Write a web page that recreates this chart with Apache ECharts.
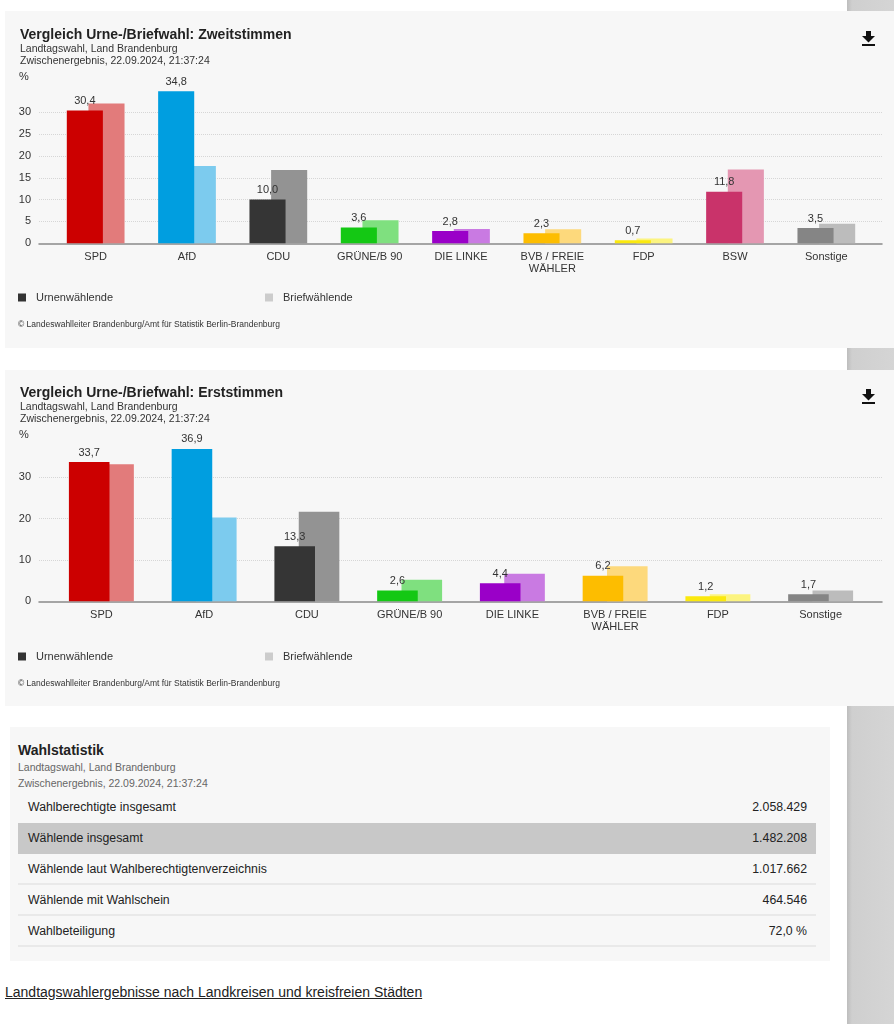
<!DOCTYPE html>
<html>
<head>
<meta charset="utf-8">
<script src="https://cdn.jsdelivr.net/npm/echarts@6/dist/echarts.min.js"></script>
<style>
  html, body { margin: 0; padding: 0; background: #fff; width: 894px; height: 1024px; overflow: hidden; font-family: "Liberation Sans", Arial, sans-serif; }
  #strip { position: absolute; left: 847px; top: 0; width: 47px; height: 1024px; background: linear-gradient(to right, #bdbdbd 0px, #cfcfcf 5px, #d5d5d5 100%); }
  .panel { position: absolute; background: #f7f7f7; }
  #c1 { left: 5px; top: 11px; width: 889px; height: 337px; }
  #c2 { left: 5px; top: 370px; width: 889px; height: 336px; }
  #stat { left: 10px; top: 727px; width: 820px; height: 234px; }
  #stat h3 { position: absolute; left: 8px; top: 15px; margin: 0; font-size: 14px; font-weight: bold; color: #222; }
  #stat .sub { position: absolute; left: 8px; font-size: 10.5px; color: #666; }
  #stat table { position: absolute; left: 8px; top: 65px; width: 798px; border-collapse: collapse; font-size: 12.3px; color: #222; }
  #stat td { height: 29px; padding: 0 9px 0 10px; border-bottom: 2px solid #e9e9e9; }
  #stat tr.first td { border-bottom: 2px solid #f7f7f7; }
  #stat tr.hl td { background: #c8c8c8; border-bottom: 2px solid #c8c8c8; }
  #stat td.v { text-align: right; }
  #link { position: absolute; left: 5px; top: 984px; font-size: 14px; color: #222; text-decoration: underline; }
</style>
</head>
<body>
<div id="strip"></div>
<div id="c1" class="panel"></div>
<div id="c2" class="panel"></div>
<div id="stat" class="panel">
  <h3>Wahlstatistik</h3>
  <div class="sub" style="top:34px">Landtagswahl, Land Brandenburg</div>
  <div class="sub" style="top:50px">Zwischenergebnis, 22.09.2024, 21:37:24</div>
  <table id="tbl"></table>
</div>
<div id="link">Landtagswahlergebnisse nach Landkreisen und kreisfreien Städten</div>
<script>
// ---------- data ----------
const categoriesZweit = ['SPD', 'AfD', 'CDU', 'GRÜNE/B 90', 'DIE LINKE', 'BVB / FREIE\nWÄHLER', 'FDP', 'BSW', 'Sonstige'];
const urneZweit  = [30.4, 34.8, 10.0, 3.6, 2.8, 2.3, 0.7, 11.8, 3.5];
const briefZweit = [32.0, 17.7, 16.8, 5.3, 3.3, 3.2, 1.1, 16.9, 4.5];

const categoriesErst = ['SPD', 'AfD', 'CDU', 'GRÜNE/B 90', 'DIE LINKE', 'BVB / FREIE\nWÄHLER', 'FDP', 'Sonstige'];
const urneErst  = [33.7, 36.9, 13.3, 2.6, 4.4, 6.2, 1.2, 1.7];
const briefErst = [33.2, 20.3, 21.7, 5.2, 6.7, 8.5, 1.7, 2.6];

const statLabels = ['Wahlberechtigte insgesamt', 'Wählende insgesamt', 'Wählende laut Wahlberechtigtenverzeichnis', 'Wählende mit Wahlschein', 'Wahlbeteiligung'];
const statValues = ['2.058.429', '1.482.208', '1.017.662', '464.546', '72,0 %'];

const seriesNames = ['Urnenwählende', 'Briefwählende'];
const subtitle = 'Landtagswahl, Land Brandenburg\nZwischenergebnis, 22.09.2024, 21:37:24';
const copyright = '© Landeswahlleiter Brandenburg/Amt für Statistik Berlin-Brandenburg';

// ---------- styles ----------
const darkColor = {
  'SPD': '#cc0000', 'AfD': '#009ee0', 'CDU': '#353535', 'GRÜNE/B 90': '#14c814',
  'DIE LINKE': '#9a00c8', 'BVB / FREIE\nWÄHLER': '#fdbd00', 'FDP': '#fbe90e',
  'BSW': '#c9336a', 'Sonstige': '#858585'
};
const lightColor = {
  'SPD': '#e27b7b', 'AfD': '#7ccbee', 'CDU': '#939393', 'GRÜNE/B 90': '#7fe07f',
  'DIE LINKE': '#c97ae2', 'BVB / FREIE\nWÄHLER': '#fdd97c', 'FDP': '#fcf480',
  'BSW': '#e497b2', 'Sonstige': '#bcbcbc'
};
const FONT = '"Liberation Sans", Arial, sans-serif';

function fmt(v) { return v.toFixed(1).replace('.', ','); }

function downloadIcon(x, y) {
  return {
    type: 'group', left: x, top: y,
    children: [
      { type: 'rect', shape: { x: 4, y: 0, width: 5, height: 6 }, style: { fill: '#111' } },
      { type: 'polygon', shape: { points: [[0, 5], [13, 5], [6.5, 11.5]] }, style: { fill: '#111' } },
      { type: 'rect', shape: { x: 0, y: 13, width: 13, height: 2 }, style: { fill: '#111' } }
    ]
  };
}

function buildOption(cfg) {
  const cats = cfg.categories;
  const legendText = { fontFamily: FONT, fontSize: 11, color: '#333', padding: [0, 0, 0, 5] };
  return {
    animation: false,
    backgroundColor: '#f7f7f7',
    textStyle: { fontFamily: FONT },
    title: {
      text: cfg.title, subtext: subtitle,
      left: 15, top: cfg.titleTop, itemGap: 0, padding: 0,
      textStyle: { fontFamily: FONT, fontSize: 14, fontWeight: 'bold', color: '#222', lineHeight: 15 },
      subtextStyle: { fontFamily: FONT, fontSize: 10.5, color: '#333', lineHeight: 12 }
    },
    legend: [
      { data: [seriesNames[0]], left: 13, top: 281, padding: 0, icon: 'rect', itemWidth: 8, itemHeight: 8,
        textStyle: legendText, selectedMode: false },
      { data: [seriesNames[1]], left: 260, top: 281, padding: 0, icon: 'rect', itemWidth: 8, itemHeight: 8,
        textStyle: legendText, selectedMode: false }
    ],
    grid: [
      { left: 34, right: 12, top: cfg.gridTop, bottom: cfg.gridBottom },
      { left: 45, right: 22, top: cfg.gridTop, bottom: cfg.gridBottom }
    ],
    xAxis: [
      { gridIndex: 0, type: 'value', min: 0, max: 1,
        axisLine: { show: true, lineStyle: { color: '#8a8a8a', width: 1.5 } },
        axisTick: { show: false }, axisLabel: { show: false }, splitLine: { show: false } },
      { gridIndex: 1, type: 'category', data: cats,
        axisLine: { show: false }, axisTick: { show: false },
        axisLabel: { fontFamily: FONT, fontSize: 11, color: '#333', margin: 8, lineHeight: 12, interval: 0 } }
    ],
    yAxis: [
      { gridIndex: 0, type: 'value', min: 0, max: cfg.max, interval: cfg.interval,
        axisLine: { show: false }, axisTick: { show: false },
        axisLabel: { fontFamily: FONT, fontSize: 11, color: '#333', margin: 8, showMaxLabel: false },
        splitLine: { show: true, showMinLine: false, showMaxLine: false, lineStyle: { color: '#d6d6d6', type: 'dotted', width: 1 } } },
      { gridIndex: 1, type: 'value', min: 0, max: cfg.max, interval: cfg.interval, show: false, splitLine: { show: false } }
    ],
    graphic: [
      { type: 'text', left: 14, top: cfg.pctTop, style: { text: '%', font: '11px ' + FONT, fill: '#333' } },
      { type: 'text', left: 13, top: 309, style: { text: copyright, font: '8.5px ' + FONT, fill: '#333' } },
      downloadIcon(857, cfg.iconTop)
    ],
    series: [
      {
        name: seriesNames[0], type: 'bar', xAxisIndex: 1, yAxisIndex: 1, z: 3,
        barWidth: '39.5%', barGap: '-40%',
        itemStyle: { color: '#333333' },
        data: cfg.urne.map((v, i) => ({ value: v, itemStyle: { color: darkColor[cats[i]] } })),
        label: { show: true, position: 'top', distance: 4, fontFamily: FONT, fontSize: 11, color: '#333',
          formatter: p => fmt(p.value) }
      },
      {
        name: seriesNames[1], type: 'bar', xAxisIndex: 1, yAxisIndex: 1, z: 2,
        barWidth: '39.5%', barGap: '-40%',
        itemStyle: { color: '#cccccc' },
        data: cfg.brief.map((v, i) => ({ value: v, itemStyle: { color: lightColor[cats[i]] } }))
      }
    ]
  };
}

const c1 = echarts.init(document.getElementById('c1'), null, { renderer: 'canvas' });
c1.setOption(buildOption({
  title: 'Vergleich Urne-/Briefwahl: Zweitstimmen', titleTop: 17,
  categories: categoriesZweit, urne: urneZweit, brief: briefZweit,
  max: 35, interval: 5, gridTop: 79.4, gridBottom: 104.7, pctTop: 60, iconTop: 20
}));

const c2 = echarts.init(document.getElementById('c2'), null, { renderer: 'canvas' });
c2.setOption(buildOption({
  title: 'Vergleich Urne-/Briefwahl: Erststimmen', titleTop: 16,
  categories: categoriesErst, urne: urneErst, brief: briefErst,
  max: 40, interval: 10, gridTop: 66.1, gridBottom: 104.7, pctTop: 59, iconTop: 19
}));

// ---------- table ----------
const tbl = document.getElementById('tbl');
statLabels.forEach((lab, i) => {
  const tr = document.createElement('tr');
  if (i === 0) tr.className = 'first';
  if (i === 1) tr.className = 'hl';
  const a = document.createElement('td'); a.textContent = lab;
  const b = document.createElement('td'); b.className = 'v'; b.textContent = statValues[i];
  tr.appendChild(a); tr.appendChild(b); tbl.appendChild(tr);
});
</script>
</body>
</html>
